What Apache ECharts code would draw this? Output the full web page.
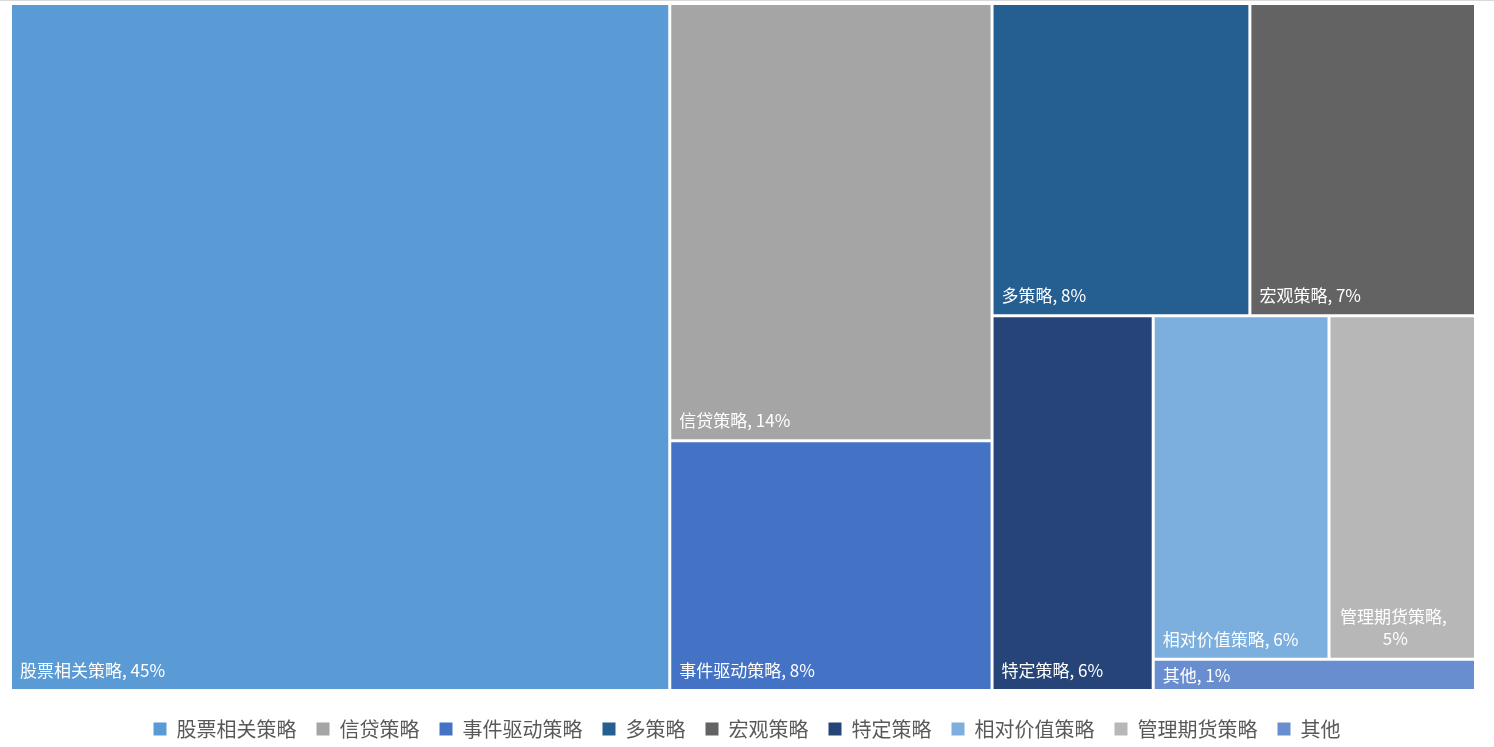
<!DOCTYPE html>
<html>
<head>
<meta charset="utf-8">
<script src="https://cdn.jsdelivr.net/npm/echarts@6/dist/echarts.min.js"></script>
<style>
  html, body { margin: 0; padding: 0; background: #fff; }
  #chart { width: 1494px; height: 747px; }
</style>
</head>
<body>
<div id="chart"></div>
<script>
// 策略占比 (%)
const strategyNames = ['股票相关策略', '信贷策略', '事件驱动策略', '多策略', '宏观策略', '特定策略', '相对价值策略', '管理期货策略', '其他'];
const strategyShares = [45, 14, 8, 8, 7, 6, 6, 5, 1];
const strategyColors = ['#5B9BD5', '#A5A5A5', '#4472C4', '#255E91', '#636363', '#264478', '#7CAFDD', '#B7B7B7', '#698ED0'];
// last few small blocks share one sub-rectangle (as in the original layout)
const tailGroupSize = 3;

const fontCJK = '"Noto Sans CJK SC", "Microsoft YaHei", sans-serif';

const leafNodes = strategyNames.map((name, i) => {
  const node = {
    name: name,
    value: strategyShares[i],
    itemStyle: { color: strategyColors[i] }
  };
  if (name === '管理期货策略') {
    node.label = { position: 'insideBottom', align: 'center', lineHeight: 22, padding: [0, 20, 8, 6] };
  }
  if (name === '其他') {
    node.label = { padding: [2, 8, 5, 8] };
  }
  return node;
});
const headCount = leafNodes.length - tailGroupSize;
const treeData = leafNodes.slice(0, headCount).concat([{
  name: '',
  children: leafNodes.slice(headCount)
}]);

const chart = echarts.init(document.getElementById('chart'));
const option = {
  backgroundColor: '#ffffff',
  graphic: [{
    type: 'rect',
    shape: { x: 0, y: 0, width: 1494, height: 1 },
    style: { fill: '#d9d9d9' },
    silent: true
  }],
  legend: {
    bottom: 3,
    left: 'center',
    icon: 'rect',
    itemWidth: 13,
    itemHeight: 13,
    itemGap: 20,
    data: strategyNames,
    textStyle: {
      color: '#595959',
      fontSize: 20,
      fontFamily: fontCJK,
      padding: [0, 0, 0, 5]
    }
  },
  series: [
    {
      type: 'treemap',
      left: 12,
      top: 5,
      right: 20,
      bottom: 58,
      roam: false,
      nodeClick: false,
      sort: false,
      squareRatio: 1.23,
      breadcrumb: { show: false },
      itemStyle: {
        borderColor: '#fff',
        borderWidth: 0,
        gapWidth: 3
      },
      label: {
        show: true,
        position: 'insideBottomLeft',
        color: '#fff',
        fontSize: 17,
        fontFamily: fontCJK,
        padding: [5, 8, 10, 8],
        overflow: 'break',
        formatter: p => p.name + ', ' + p.value + '%'
      },
      upperLabel: { show: false },
      data: treeData
    },
    {
      // invisible series, only feeds the legend colours
      type: 'pie',
      radius: 0,
      center: [-100, -100],
      silent: true,
      label: { show: false },
      labelLine: { show: false },
      data: strategyNames.map((name, i) => ({
        name: name,
        value: strategyShares[i],
        itemStyle: { color: strategyColors[i] }
      }))
    }
  ]
};
option && chart.setOption(option);
</script>
</body>
</html>
